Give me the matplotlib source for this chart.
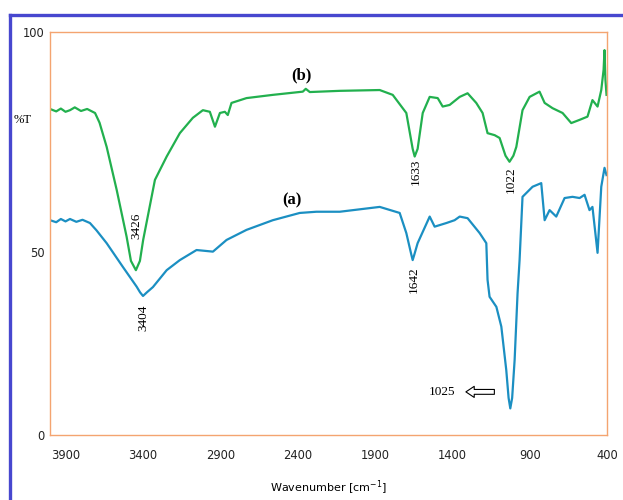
import matplotlib
matplotlib.use("Agg")
import matplotlib.pyplot as plt
from matplotlib.lines import Line2D

# spectrum (b) - green
wn_b = [4000, 3960, 3930, 3900, 3871, 3840, 3800, 3760, 3709, 3680, 3634, 3569, 3505, 3477,
        3445, 3419, 3398, 3322, 3246, 3161, 3077, 3012, 2967, 2934, 2902, 2870, 2851, 2827,
        2730, 2560, 2366, 2347, 2321, 2127, 1869, 1785, 1697, 1656, 1643, 1624, 1591, 1546,
        1494, 1462, 1417, 1352, 1301, 1245, 1204, 1172, 1126, 1094, 1056, 1030, 1005, 986,
        946, 900, 836, 803, 752, 687, 631, 577, 526, 494, 461, 437, 422, 416, 410, 403]
t_b = [80.9, 80.3, 81.0, 80.2, 80.6, 81.3, 80.4, 80.9, 79.9, 77.5, 71.5, 60.8, 49.2, 43.2,
       40.9, 43.2, 48.4, 63.3, 69.1, 74.9, 78.7, 80.6, 80.2, 76.5, 79.9, 80.2, 79.4, 82.4,
       83.6, 84.4, 85.2, 85.9, 85.1, 85.4, 85.6, 84.4, 79.9, 71.0, 69.1, 71.0, 79.9, 83.9,
       83.6, 81.5, 81.9, 83.9, 84.8, 82.4, 79.9, 74.9, 74.4, 73.7, 69.3, 67.8, 69.3, 71.5,
       80.6, 83.9, 85.2, 82.4, 81.1, 79.9, 77.4, 78.2, 79.0, 83.1, 81.5, 85.6, 90.6, 95.5,
       88.1, 84.4]

# spectrum (a) - blue
wn_a = [4000, 3960, 3930, 3900, 3871, 3830, 3790, 3742, 3700, 3634, 3529, 3440, 3418, 3399,
        3374, 3335, 3246, 3161, 3053, 2947, 2859, 2730, 2560, 2386, 2278, 2127, 1869, 1740,
        1697, 1665, 1656, 1645, 1624, 1546, 1514, 1438, 1385, 1352, 1301, 1223, 1180, 1172,
        1159, 1115, 1083, 1051, 1036, 1025, 1013, 997, 978, 965, 946, 881, 825, 803, 771,
        728, 674, 623, 577, 545, 513, 494, 461, 437, 416, 403]
t_a = [53.3, 52.8, 53.6, 53.0, 53.6, 52.9, 53.4, 52.6, 50.8, 47.6, 41.7, 36.8, 35.4, 34.5,
       35.4, 36.7, 40.9, 43.4, 45.9, 45.5, 48.4, 50.9, 53.3, 55.1, 55.4, 55.4, 56.6, 55.1,
       50.1, 44.8, 43.4, 44.8, 47.6, 54.2, 51.7, 52.6, 53.3, 54.2, 53.8, 50.1, 47.6, 38.5,
       34.3, 31.8, 26.9, 16.1, 9.2, 6.6, 9.2, 18.6, 35.2, 43.4, 59.1, 61.6, 62.5, 53.3, 55.8,
       54.2, 58.8, 59.1, 58.8, 59.6, 55.8, 56.6, 45.2, 61.6, 66.3, 64.5]

x_ticks = [3900, 3400, 2900, 2400, 1900, 1400, 900, 400]
y_ticks = [0, 45.4, 100]
y_labels = ["0", "50", "100"]

green = "#22b04e"
blue = "#1b8fc2"
orange = "#f4a470"

fig = plt.figure(figsize=(6.23, 5.0), dpi=100)
ax = fig.add_axes([0.0803, 0.13, 0.894, 0.806])

ax.plot(wn_b, t_b, color=green, lw=1.6)
ax.plot(wn_a, t_a, color=blue, lw=1.6)

ax.set_xlim(4000, 400)
ax.set_ylim(0, 100)
ax.set_xticks(x_ticks)
ax.set_yticks(y_ticks)
ax.set_yticklabels(y_labels)
ax.tick_params(length=0, labelsize=8.3, colors="#222222", pad=10)
ax.tick_params(axis="y", pad=4)
for s in ax.spines.values():
    s.set_color(orange)
    s.set_linewidth(1.0)

ax.set_xlabel("Wavenumber [cm$^{-1}$]", fontsize=8, labelpad=12)
fig.text(32 / 623, 1 - 120 / 500, "%T", fontsize=9, family="Liberation Serif",
         ha="right", va="center")

serif = "Liberation Serif"
ax.text(2373, 89.3, "(b)", fontsize=12, fontweight="bold", family=serif, ha="center", va="center")
ax.text(2437, 58.3, "(a)", fontsize=12, fontweight="bold", family=serif, ha="center", va="center")
for wn, t, lab in [(3445, 51.9, "3426"), (3399, 29.0, "3404"), (1637, 65.3, "1633"),
                   (1023, 63.3, "1022"), (1650, 38.5, "1642")]:
    ax.text(wn, t, lab, rotation=90, fontsize=9.5, family=serif, ha="center", va="center")
ax.text(1469, 10.7, "1025", fontsize=9.5, family=serif, ha="center", va="center")
ax.annotate("", xy=(1330, 10.7), xytext=(1110, 10.7),
            arrowprops=dict(arrowstyle="simple,head_length=0.6,head_width=0.8,tail_width=0.35",
                            fc="white", ec="black", lw=0.8))

# blue frame on the left and top
fx = 10 / 623
fy = 1 - 15 / 500
fig.add_artist(Line2D([fx, fx], [0, fy], transform=fig.transFigure, color="#4747cf", lw=2.4))
fig.add_artist(Line2D([fx, 1], [fy, fy], transform=fig.transFigure, color="#4747cf", lw=2.4))

fig.savefig("out.png", dpi=100)
